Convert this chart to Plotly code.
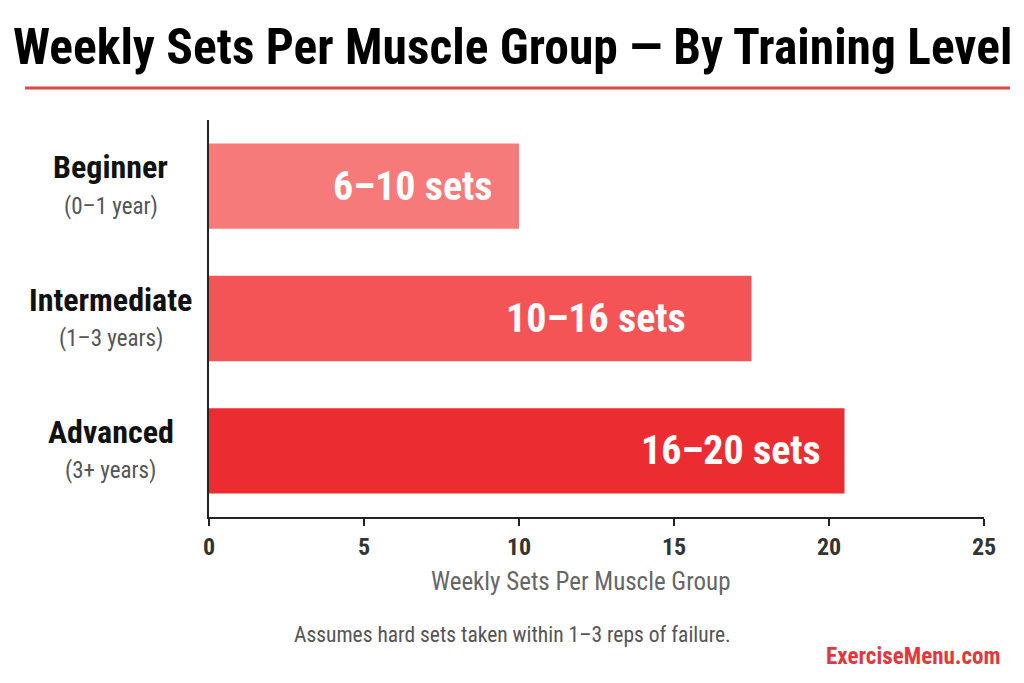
import plotly.graph_objects as go

levels = ["Beginner", "Intermediate", "Advanced"]
level_years = ["(0–1 year)", "(1–3 years)", "(3+ years)"]
bar_values = [10, 17.5, 20.5]
bar_labels = ["6–10 sets", "10–16 sets", "16–20 sets"]
bar_colors = ["#F77A7A", "#F55457", "#EB2D32"]
x_ticks = [0, 5, 10, 15, 20, 25]

FONT = "Liberation Sans Narrow, Roboto Condensed, DejaVu Sans Condensed, Arial Narrow, sans-serif"

W, H = 1024, 683
L, R, T, B = 209, 40, 120, 166
pw = W - L - R

def px_to_paper_x(px):
    return (px - L) / pw

def py_to_paper_y(py):
    ph = H - T - B
    return 1 - (py - T) / ph

fig = go.Figure()
fig.add_trace(go.Bar(
    x=bar_values, y=levels, orientation="h",
    marker=dict(color=bar_colors, line=dict(width=0)),
    width=0.645, hoverinfo="skip",
))

label_shift = [-24, -64, -22]
annotations = []
for i, lvl in enumerate(levels):
    annotations.append(dict(
        x=bar_values[i], y=lvl, xref="x", yref="y",
        text=f"<b>{bar_labels[i]}</b>", showarrow=False,
        xanchor="right", yanchor="middle", xshift=label_shift[i],
        font=dict(family=FONT, size=40, color="white"),
    ))
    annotations.append(dict(
        x=px_to_paper_x(111), y=lvl, xref="paper", yref="y",
        text=f"<b>{lvl}</b>",
        showarrow=False, xanchor="center", yanchor="middle",
        font=dict(family=FONT, size=32, color="#111111"),
        yshift=19,
    ))
    annotations.append(dict(
        x=px_to_paper_x(111), y=lvl, xref="paper", yref="y",
        text=level_years[i],
        showarrow=False, xanchor="center", yanchor="middle",
        font=dict(family=FONT, size=23, color="#555555"),
        yshift=-20,
    ))

annotations.append(dict(
    x=px_to_paper_x(580), y=py_to_paper_y(581), xref="paper", yref="paper",
    text="Weekly Sets Per Muscle Group", showarrow=False,
    xanchor="center", yanchor="middle",
    font=dict(family=FONT, size=25, color="#666666"),
))
annotations.append(dict(
    x=px_to_paper_x(512), y=py_to_paper_y(634), xref="paper", yref="paper",
    text="Assumes hard sets taken within 1–3 reps of failure.", showarrow=False,
    xanchor="center", yanchor="middle",
    font=dict(family=FONT, size=21.5, color="#555555"),
))
annotations.append(dict(
    x=px_to_paper_x(1003), y=py_to_paper_y(656), xref="paper", yref="paper",
    text="<b>ExerciseMenu.com</b>", showarrow=False,
    xanchor="right", yanchor="middle",
    font=dict(family=FONT, size=23, color="#E0383D"),
))
annotations.append(dict(
    x=px_to_paper_x(512), y=py_to_paper_y(47), xref="paper", yref="paper",
    text="<b>Weekly Sets Per Muscle Group — By Training Level</b>", showarrow=False,
    xanchor="center", yanchor="middle",
    font=dict(family=FONT, size=49.5, color="#000000"),
))

fig.update_layout(
    width=W, height=H,
    margin=dict(l=L, r=R, t=T, b=B, pad=0),
    paper_bgcolor="white", plot_bgcolor="white",
    showlegend=False,
    annotations=annotations,
    shapes=[dict(
        type="line", xref="paper", yref="paper",
        x0=px_to_paper_x(25), x1=px_to_paper_x(1010),
        y0=py_to_paper_y(88), y1=py_to_paper_y(88),
        line=dict(color="#E0474C", width=3),
    )],
    xaxis=dict(
        range=[0, 25], tickvals=x_ticks, ticktext=[f"<b>{v}</b>" for v in x_ticks],
        showgrid=False, zeroline=False,
        showline=True, linecolor="#222222", linewidth=2,
        ticks="outside", ticklen=7, tickwidth=2, tickcolor="#222222",
        tickfont=dict(family=FONT, size=24, color="#333333"),
        fixedrange=True,
    ),
    yaxis=dict(
        range=[2.5, -0.5], showticklabels=False,
        showgrid=False, zeroline=False,
        showline=True, linecolor="#222222", linewidth=2,
        ticks="", fixedrange=True,
    ),
)

fig.write_html("out.html")
